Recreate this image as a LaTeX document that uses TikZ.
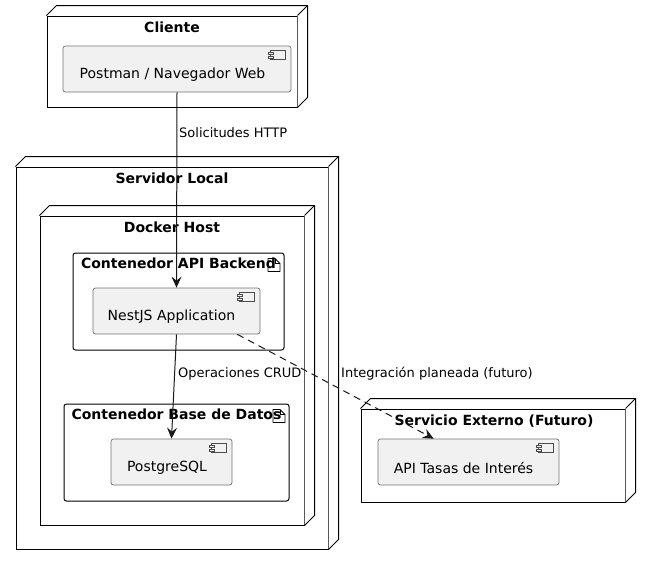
\documentclass[tikz,border=0pt]{standalone}
\usepackage{fontspec}
\setmainfont{DejaVu Sans}
\usetikzlibrary{arrows.meta,fit,calc}
\definecolor{compfill}{HTML}{F1F1F1}
\definecolor{linecol}{HTML}{181818}
\tikzset{
  frontbox/.style={draw=black, fill=white, line width=1pt, inner sep=0pt},
  comp/.style={draw=black!55, fill=compfill, rounded corners=2.5pt, line width=0.7pt, inner sep=0pt},
  pkg/.style={draw=black, fill=white, rounded corners=2.5pt, line width=1pt, inner sep=0pt},
  title/.style={font=\bfseries\fontsize{14}{16}\selectfont, inner sep=0pt},
  ctext/.style={font=\fontsize{14}{16}\selectfont, inner sep=0pt},
  elabel/.style={font=\fontsize{13}{15}\selectfont, inner sep=0pt, anchor=west},
  conn/.style={draw=linecol, line width=1pt, -{Stealth[length=11pt,width=10pt,inset=4pt]}},
  dconn/.style={conn, dash pattern=on 7pt off 5pt},
  icon/.style={draw=black!70, line width=0.6pt, fill=compfill},
}
\newcommand\depthbox[1]{%
  \fill[white] (#1.north west) -- ++(10,-10) -- ($(#1.north east)+(10,-10)$)
    -- ($(#1.south east)+(10,-10)$) -- (#1.south east) -- (#1.north east) -- cycle;
  \draw[line width=1pt, line join=miter] (#1.north west) -- ++(10,-10) -- ($(#1.north east)+(10,-10)$)
    -- ($(#1.south east)+(10,-10)$) -- (#1.south east);
  \draw[line width=1pt] (#1.north east) -- ++(10,-10);}
\newcommand\compicon[1]{%
  \draw[icon] ($(#1.north east)+(-21,5)$) rectangle ($(#1.north east)+(-6,14)$);
  \draw[icon] ($(#1.north east)+(-23.5,7)$) rectangle ($(#1.north east)+(-18.5,9)$);
  \draw[icon] ($(#1.north east)+(-23.5,10.5)$) rectangle ($(#1.north east)+(-18.5,12.5)$);}
\newcommand\docicon[1]{%
  \draw[line width=0.8pt, line join=round] ($(#1.north east)+(-16.5,6)$) -- ++(7,0) -- ++(5,5) -- ++(0,8) -- ++(-12,0) -- cycle;
  \draw[line width=0.8pt] ($(#1.north east)+(-9.5,6)$) -- ++(0,5) -- ++(5,0);}
\begin{document}
\begin{tikzpicture}[x=1pt, y=-1pt]
\useasboundingbox[fill=white] (0,0) rectangle (652,565);

% Cliente
\node[frontbox, fit={(47,16)(297,107)}] (cliente) {};
\depthbox{cliente}
\node[title] at (172,27) {Cliente};
\node[comp, fit={(63,46)(291,92)}] (postman) {};
\compicon{postman}
\node[ctext] at ($(postman.center)+(-4.5,5.5)$) {Postman / Navegador Web};

% Servidor Local
\node[frontbox, fit={(16,167)(328,549)}] (servidor) {};
\depthbox{servidor}
\node[title] at (172,178) {Servidor Local};

% Docker Host
\node[frontbox, fit={(40,216)(304,525)}] (docker) {};
\depthbox{docker}
\node[title] at (172,227) {Docker Host};

% Contenedor API Backend
\node[pkg, fit={(73,253)(284,350)}] (apipkg) {};
\docicon{apipkg}
\node[title] at (178.5,263) {Contenedor API Backend};
\node[comp, fit={(93,288)(260,334)}] (nest) {};
\compicon{nest}
\node[ctext] at ($(nest.center)+(-5,5.5)$) {NestJS Application};

% Contenedor Base de Datos
\node[pkg, fit={(64,404)(289,501)}] (dbpkg) {};
\docicon{dbpkg}
\node[title] at (176.5,414) {Contenedor Base de Datos};
\node[comp, fit={(111,439)(232,485)}] (pg) {};
\compicon{pg}
\node[ctext] at ($(pg.center)+(-4.5,5.5)$) {PostgreSQL};

% Servicio Externo
\node[frontbox, fit={(361,409)(625,502)}] (externo) {};
\depthbox{externo}
\node[title] at (494,421) {Servicio Externo (Futuro)};
\node[comp, fit={(378,439)(559,485)}] (api) {};
\compicon{api}
\node[ctext] at ($(api.center)+(-5,5.5)$) {API Tasas de Interés};

% connectors
\coordinate (nestout) at ($(nest.south east)+(-23,0)$);
\coordinate (apiin) at ($(api.north west)+(56,0)$);
\draw[conn] (postman.south) -- (nest.north);
\node[elabel] (l1) at (179,133) {Solicitudes HTTP};
\draw[conn] (nest.south) -- (pg.north);
\node[elabel] (l2) at (178,374) {Operaciones CRUD};
\draw[dconn] (nestout) -- (apiin);
\node[elabel] (l3) at (341,374) {Integración planeada (futuro)};
\end{tikzpicture}
\end{document}
